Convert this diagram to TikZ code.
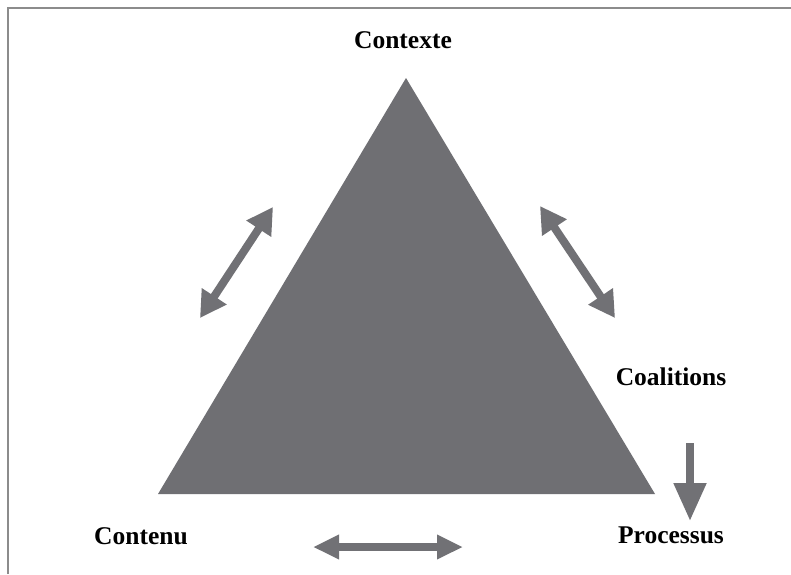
\documentclass[tikz,border=0pt]{standalone}
\usepackage{fontspec}
\setmainfont{Liberation Serif}
\usetikzlibrary{arrows.meta}
\definecolor{tri}{HTML}{6F6F73}
\definecolor{arr}{HTML}{717175}
\definecolor{frame}{HTML}{8C8C8C}
\tikzset{
  lbl/.style={font=\fontsize{25.5}{30}\selectfont\bfseries, inner sep=0pt, anchor=base},
  dbl/.style={arr, line width=8pt, {Triangle[length=26pt,width=28pt]}-{Triangle[length=26pt,width=28pt]}},
  sgl/.style={arr, line width=8pt, -{Triangle[length=38pt,width=31pt]}}
}
\begin{document}
\begin{tikzpicture}[x=1pt,y=-1pt]
\useasboundingbox[fill=white] (0,0) rectangle (791,574);
% frame (top and left edges)
\draw[frame, line width=2pt] (8,574) -- (8,8) -- (791,8);
% triangle
\coordinate (A) at (406,78);
\coordinate (B) at (158,494);
\coordinate (C) at (655,494);
\fill[tri] (A) -- (B) -- (C) -- cycle;
% labels
\node[lbl] (ctx) at (403,48) {Contexte};
\node[lbl] (coa) at (671,385) {Coalitions};
\node[lbl] (cnt) at (141,544) {Contenu};
\node[lbl] (pro) at (671,543) {Processus};
% arrows
\coordinate (l1) at (200,318); \coordinate (l2) at (273,207);
\coordinate (r1) at (540,206); \coordinate (r2) at (615,318);
\coordinate (b1) at (313,547); \coordinate (b2) at (463,547);
\coordinate (v1) at (690,443); \coordinate (v2) at (690,521);
\draw[dbl] (l1) -- (l2);
\draw[dbl] (r1) -- (r2);
\draw[dbl, line width=8.5pt, {Triangle[length=26pt,width=23pt]}-{Triangle[length=26pt,width=23pt]}] (b1) -- (b2);
\draw[sgl] (v1) -- (v2);
\end{tikzpicture}
\end{document}
